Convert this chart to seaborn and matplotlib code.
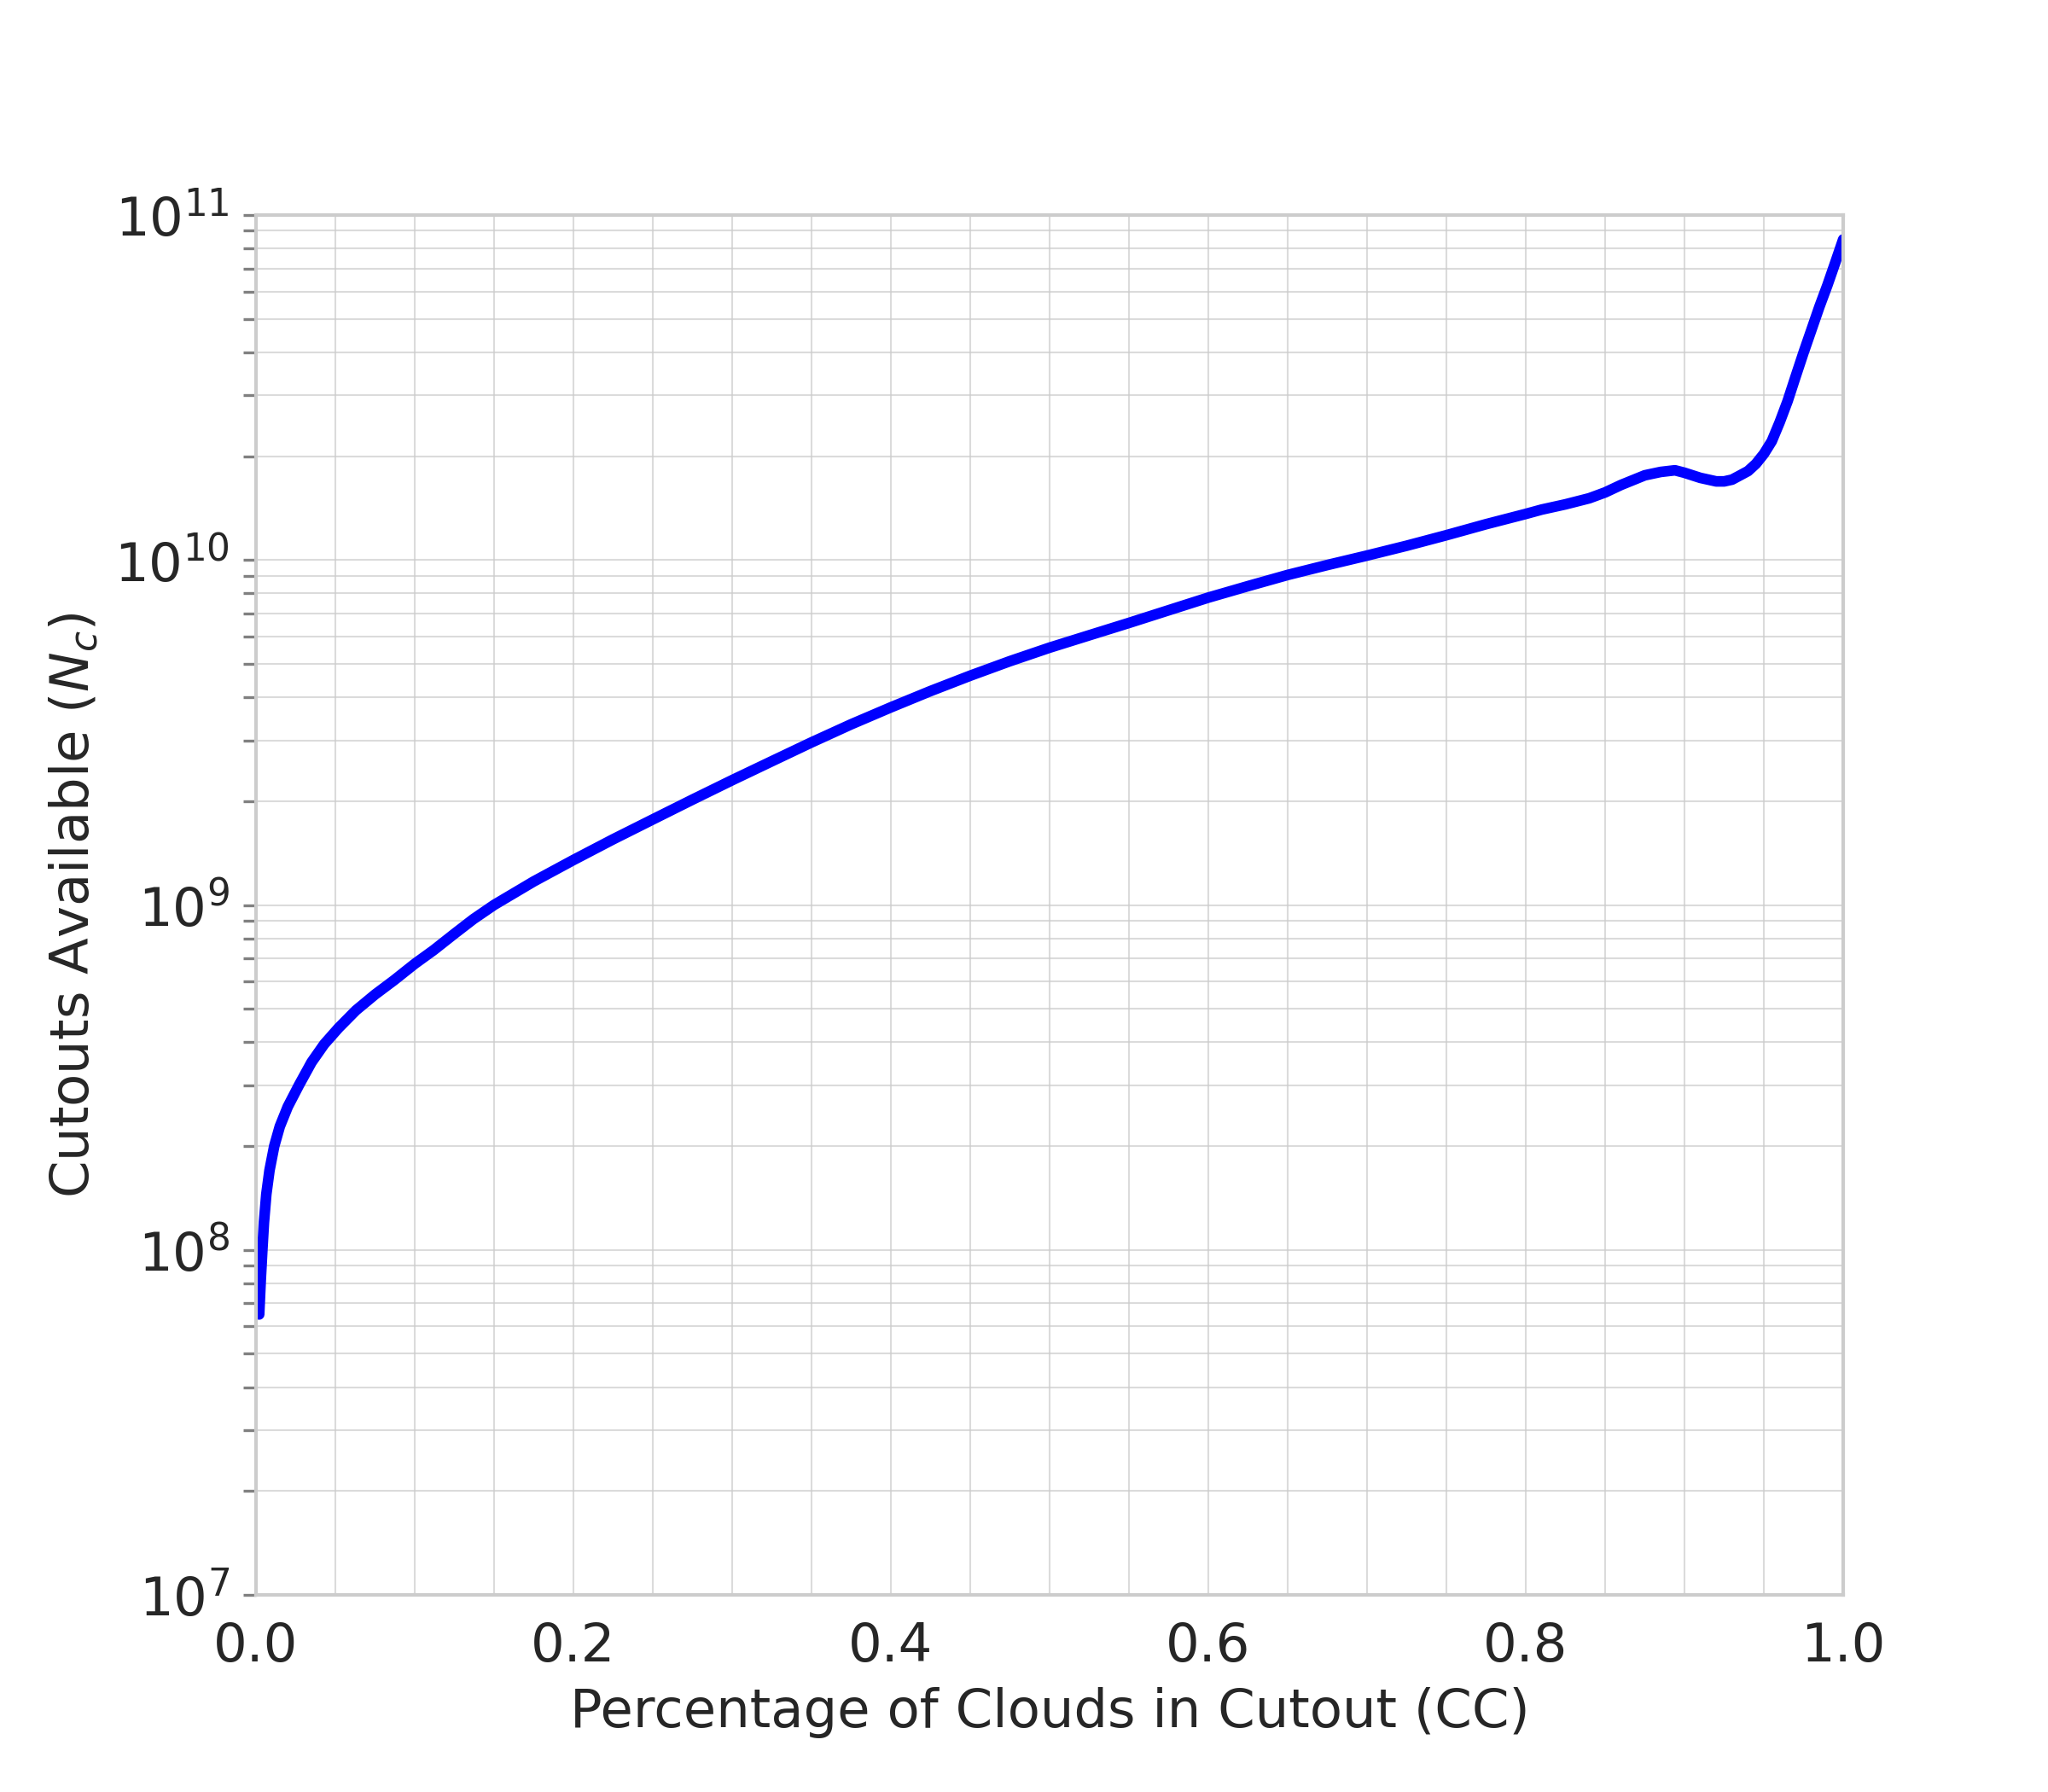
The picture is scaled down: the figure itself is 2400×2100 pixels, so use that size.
import numpy as np
import pandas as pd
import matplotlib
matplotlib.use("Agg")
import matplotlib.pyplot as plt
from matplotlib.ticker import MultipleLocator, LogLocator, NullFormatter
import seaborn as sns

# values
cloud_frac = [0.002, 0.003, 0.004, 0.005, 0.0065, 0.0085, 0.0115, 0.015, 0.02, 0.027,
              0.035, 0.043, 0.052, 0.063, 0.075, 0.087, 0.1, 0.112, 0.125, 0.137,
              0.15, 0.175, 0.2, 0.225, 0.25, 0.275, 0.3, 0.325, 0.35, 0.375,
              0.4, 0.425, 0.45, 0.475, 0.5, 0.525, 0.55, 0.575, 0.6, 0.625,
              0.65, 0.675, 0.7, 0.725, 0.75, 0.775, 0.8, 0.81, 0.825, 0.84,
              0.85, 0.86, 0.875, 0.885, 0.894, 0.9, 0.91, 0.92, 0.925, 0.93,
              0.94, 0.945, 0.95, 0.955, 0.96, 0.965, 0.97, 0.975, 0.98, 0.985,
              0.99, 0.995, 1.0]
cutouts = [6.5e7, 8.2e7, 1.0e8, 1.2e8, 1.45e8, 1.7e8, 2.0e8, 2.28e8, 2.6e8, 3.0e8,
           3.5e8, 3.95e8, 4.4e8, 4.95e8, 5.5e8, 6.05e8, 6.75e8, 7.4e8, 8.25e8, 9.1e8,
           1.0e9, 1.17e9, 1.35e9, 1.55e9, 1.77e9, 2.02e9, 2.3e9, 2.61e9, 2.96e9, 3.34e9,
           3.74e9, 4.17e9, 4.62e9, 5.09e9, 5.57e9, 6.05e9, 6.57e9, 7.15e9, 7.78e9, 8.4e9,
           9.05e9, 9.67e9, 1.03e10, 1.10e10, 1.18e10, 1.27e10, 1.36e10, 1.40e10, 1.45e10, 1.51e10,
           1.57e10, 1.65e10, 1.76e10, 1.80e10, 1.82e10, 1.79e10, 1.73e10, 1.69e10, 1.69e10, 1.71e10,
           1.81e10, 1.90e10, 2.03e10, 2.21e10, 2.51e10, 2.89e10, 3.40e10, 3.99e10, 4.65e10, 5.42e10,
           6.25e10, 7.28e10, 8.5e10]

df = pd.DataFrame({'CC': cloud_frac, 'Nc': cutouts})

sns.set_style('whitegrid')
fig, ax = plt.subplots(figsize=(8, 7), dpi=300)

sns.lineplot(data=df, x='CC', y='Nc', color='blue', linewidth=3.0, ax=ax)

ax.set_yscale('log')
ax.set_xlim(0, 1)
ax.set_ylim(1e7, 1e11)
ax.xaxis.set_major_locator(MultipleLocator(0.2))
ax.xaxis.set_minor_locator(MultipleLocator(0.05))
ax.yaxis.set_minor_locator(LogLocator(base=10, subs=np.arange(2, 10)))
ax.yaxis.set_minor_formatter(NullFormatter())

ax.grid(True, which='both', color='#cccccc', linewidth=0.5, alpha=0.7)
for s in ax.spines.values():
    s.set_color('#cccccc')
    s.set_linewidth(1.0)

ax.tick_params(axis='y', which='both', left=True, color='grey', length=3.5, width=0.8)
ax.tick_params(axis='x', which='both', bottom=False)
ax.tick_params(axis='both', labelsize=15, colors='#262626', pad=4)
ax.tick_params(axis='y', which='both', color='grey')

ax.set_xlabel('Percentage of Clouds in Cutout (CC)', fontsize=15, color='#262626')
ax.set_ylabel('Cutouts Available ($N_c$)', fontsize=15, color='#262626')

plt.savefig('out.png', dpi=300)
